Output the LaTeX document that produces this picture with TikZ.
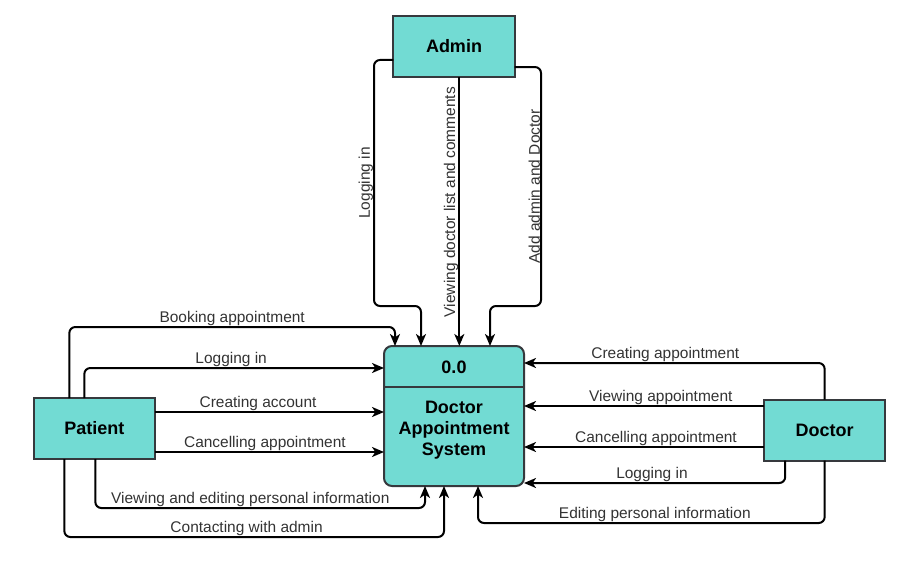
\documentclass[tikz,border=0pt]{standalone}
\usepackage{fontspec}
\setmainfont{Liberation Sans}
\usetikzlibrary{arrows.meta}
\usetikzlibrary{positioning}
\definecolor{boxfill}{HTML}{72DBD3}
\definecolor{boxline}{HTML}{36393D}

\begin{document}
\begin{tikzpicture}[x=0.75pt,y=-0.75pt,
  entity/.style={draw=boxline,fill=boxfill,line width=1.5pt,outer sep=0pt,minimum width=91pt,minimum height=45.75pt,font=\fontsize{13.5}{15.75}\selectfont\bfseries},
  process/.style={draw=boxline,fill=boxfill,line width=1.5pt,outer sep=0pt,rounded corners=6pt,minimum width=105pt,minimum height=105pt},
  flow/.style={-{Stealth[length=9pt,width=7.5pt,inset=2.5pt]},line width=1.5pt,rounded corners=4.5pt},
  lbl/.style={above,inner sep=0pt,font=\fontsize{11.6}{13}\selectfont,text=black!80},
  vlbl/.style={lbl,rotate=90,anchor=south}]
\useasboundingbox (0,0) rectangle (901,572);

\node[process] (sys) at (454,416) {};
\node[entity] (admin) [above=201.75pt of sys] {Admin};
\node[entity] (patient) [left=171.75pt of sys,yshift=-9.375pt] {Patient};
\node[entity] (doctor) [right=180pt of sys,yshift=-10.5pt] {Doctor};

\draw[boxline,line width=1.5pt] ([yshift=21.75pt]sys.west) -- ([yshift=21.75pt]sys.east);
\node[font=\fontsize{13.5}{15.75}\selectfont\bfseries] (sysid) at ([yshift=36.75pt]sys.center) {0.0};
\node[align=center,font=\fontsize{13.5}{15.75}\selectfont\bfseries] (sysname) at ([yshift=-10.5pt]sys.center) {Doctor\\Appointment\\System};

\draw[flow] ([yshift=-10.1pt]admin.west) -| node[vlbl,pos=0.75]{Logging in} (374,306) -| ([xshift=-24.75pt]sys.north);
\draw[flow] ([xshift=4pt]admin.south) -- node[vlbl,pos=0.465]{Viewing doctor list and comments} ([xshift=4pt]sys.north);
\draw[flow] ([yshift=-15.4pt]admin.east) -| node[vlbl,pos=0.75]{Add admin and Doctor} (541,306) -| ([xshift=27pt]sys.north);

\draw[flow] ([xshift=-18.75pt]patient.north) |- node[lbl,pos=0.75]{Booking appointment} (395,327) -- ([xshift=-44.25pt]sys.north);
\draw[flow] ([xshift=-7.5pt]patient.north) |- node[lbl,pos=0.745]{Logging in} ([yshift=36pt]sys.west);
\draw[flow] ([yshift=12.375pt]patient.east) -- node[lbl,pos=0.45]{Creating account} ([yshift=3pt]sys.west);
\draw[flow] ([yshift=-17.625pt]patient.east) -- node[lbl,pos=0.48]{Cancelling appointment} ([yshift=-27pt]sys.west);
\draw[flow] ([xshift=0.75pt]patient.south) |- node[lbl,pos=0.735]{Viewing and editing personal information} (425,508) -- ([xshift=-21.75pt]sys.south);
\draw[flow] ([xshift=-22.5pt]patient.south) |- node[lbl,pos=0.74]{Contacting with admin} (444,537) -- ([xshift=-7.5pt]sys.south);

\draw[flow] (doctor.north) |- node[lbl,pos=0.765]{Creating appointment} ([yshift=39.75pt]sys.east);
\draw[flow] ([yshift=18pt]doctor.west) -- node[lbl,pos=0.43]{Viewing appointment} ([yshift=7.5pt]sys.east);
\draw[flow] ([yshift=-12.75pt]doctor.west) -- node[lbl,pos=0.45]{Cancelling appointment} ([yshift=-23.25pt]sys.east);
\draw[flow] ([xshift=-29.6pt]doctor.south) |- node[lbl,pos=0.755]{Logging in} ([yshift=-50.25pt]sys.east);
\draw[flow] (doctor.south) |- node[lbl,pos=0.745]{Editing personal information} (478,523) -- ([xshift=18pt]sys.south);
\end{tikzpicture}
\end{document}
